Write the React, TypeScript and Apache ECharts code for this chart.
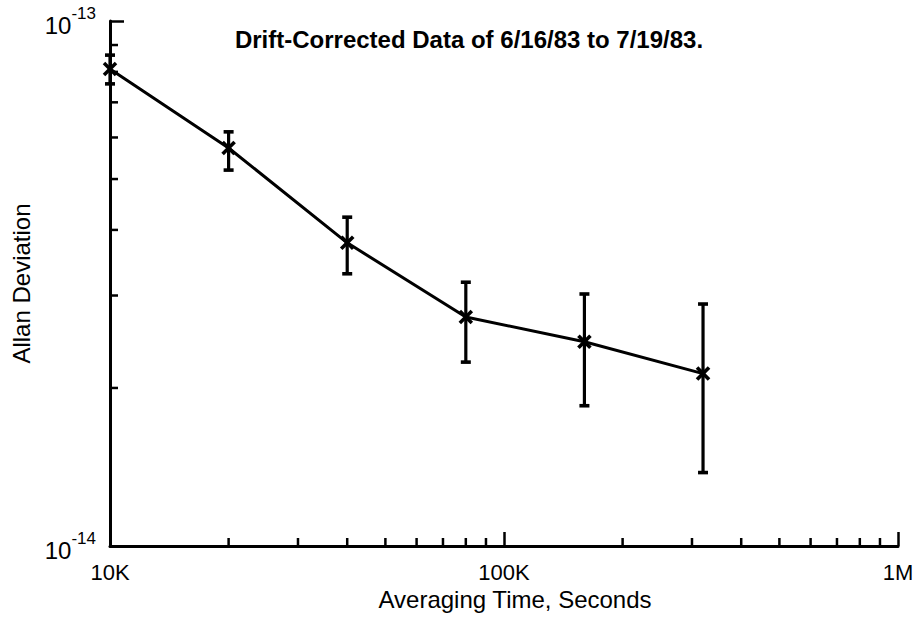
import React, { useEffect, useRef } from "react";
import * as echarts from "echarts";

// Averaging time (seconds)
const tau = [10000, 20000, 40000, 80000, 160000, 320000];
// Allan deviation
const adev = [8.1e-14, 5.73e-14, 3.78e-14, 2.73e-14, 2.45e-14, 2.13e-14];
const adevLow = [7.59e-14, 5.2e-14, 3.3e-14, 2.24e-14, 1.85e-14, 1.38e-14];
const adevHigh = [8.61e-14, 6.15e-14, 4.23e-14, 3.18e-14, 3.02e-14, 2.89e-14];

const X_MIN = 1e4;
const X_MAX = 1e6;
const Y_MIN = 1e-14;
const Y_MAX = 1e-13;

const xMinorTicks = [20000, 30000, 40000, 50000, 60000, 70000, 80000, 90000, 200000, 300000, 400000, 500000, 600000, 700000, 800000, 900000];
const yMinorTicks = [2e-14, 3e-14, 4e-14, 5e-14, 6e-14, 7e-14, 8e-14, 9e-14];
const xTickLabels: Record<string, string> = { "10000": "10K", "100000": "100K", "1000000": "1M" };

const FONT = "'Liberation Sans', Arial, Helvetica, sans-serif";

export default function App() {
  const ref = useRef<HTMLDivElement>(null);
  useEffect(() => {
    if (!ref.current) return;
    const chart = echarts.init(ref.current, null, { renderer: "svg" });
    const errData = tau.map((t, i) => [t, adev[i], adevLow[i], adevHigh[i]]);
    chart.setOption({
      animation: false,
      backgroundColor: "#fff",
      title: {
        text: "Drift-Corrected Data of 6/16/83 to 7/19/83.",
        left: 469,
        top: 27,
        padding: 0,
        textAlign: "center",
        textStyle: { fontFamily: FONT, fontWeight: "bold", fontSize: 24, color: "#000" },
      },
      grid: { left: 110, right: 22, top: 21, bottom: 82, containLabel: false },
      xAxis: {
        type: "log",
        logBase: 10,
        min: X_MIN,
        max: X_MAX,
        name: "Averaging Time, Seconds",
        nameLocation: "middle",
        nameGap: 41,
        nameTextStyle: { fontFamily: FONT, fontSize: 24, color: "#000", padding: [0, 0, 0, 22] },
        axisLine: { show: true, onZero: false, lineStyle: { color: "#000", width: 3 } },
        axisTick: { show: true, inside: true, length: 14, lineStyle: { color: "#000", width: 2.5 } },
        axisLabel: {
          color: "#000",
          fontFamily: FONT,
          fontSize: 22,
          margin: 15,
          formatter: (v: number) => xTickLabels[String(Math.round(v))] ?? "",
        },
        splitLine: { show: false },
        minorTick: { show: false },
      },
      yAxis: {
        type: "log",
        logBase: 10,
        min: Y_MIN,
        max: Y_MAX,
        name: "Allan Deviation",
        nameLocation: "middle",
        nameGap: 74,
        nameTextStyle: { fontFamily: FONT, fontSize: 24, color: "#000" },
        axisLine: { show: true, onZero: false, lineStyle: { color: "#000", width: 3 } },
        axisTick: { show: true, inside: true, length: 14, lineStyle: { color: "#000", width: 2.5 } },
        axisLabel: {
          color: "#000",
          fontFamily: FONT,
          fontSize: 24,
          margin: 14,
          formatter: (v: number) => `{b|10}{s|${Math.round(Math.log10(v))}}`,
          rich: {
            b: { fontFamily: FONT, fontSize: 24, color: "#000", lineHeight: 32, verticalAlign: "bottom" },
            s: { fontFamily: FONT, fontSize: 17, color: "#000", lineHeight: 32, verticalAlign: "top" },
          },
        },
        splitLine: { show: false },
        minorTick: { show: false },
      },
      series: [
        {
          type: "custom",
          coordinateSystem: "cartesian2d",
          silent: true,
          clip: false,
          data: xMinorTicks.map((v) => [v, Y_MIN]),
          renderItem: (_p: any, api: any) => {
            const p = api.coord([api.value(0), api.value(1)]);
            return {
              type: "line",
              shape: { x1: p[0], y1: p[1], x2: p[0], y2: p[1] - 8 },
              style: { stroke: "#000", lineWidth: 2.5 },
            };
          },
        },
        {
          type: "custom",
          coordinateSystem: "cartesian2d",
          silent: true,
          clip: false,
          data: yMinorTicks.map((v) => [X_MIN, v]),
          renderItem: (_p: any, api: any) => {
            const p = api.coord([api.value(0), api.value(1)]);
            return {
              type: "line",
              shape: { x1: p[0], y1: p[1], x2: p[0] + 8, y2: p[1] },
              style: { stroke: "#000", lineWidth: 2.5 },
            };
          },
        },
        {
          type: "line",
          data: tau.map((t, i) => [t, adev[i]]),
          showSymbol: false,
          symbol: "none",
          lineStyle: { color: "#000", width: 3 },
          silent: true,
        },
        {
          type: "custom",
          coordinateSystem: "cartesian2d",
          silent: true,
          clip: false,
          encode: { x: 0, y: [1, 2, 3] },
          data: errData,
          renderItem: (_p: any, api: any) => {
            const c = api.coord([api.value(0), api.value(1)]);
            const lo = api.coord([api.value(0), api.value(2)]);
            const hi = api.coord([api.value(0), api.value(3)]);
            const st = { stroke: "#000", lineWidth: 3.2 };
            const mk = { stroke: "#000", lineWidth: 3.6 };
            const cap = 5;
            const m = 6;
            return {
              type: "group",
              children: [
                { type: "line", shape: { x1: lo[0], y1: lo[1], x2: hi[0], y2: hi[1] }, style: st },
                { type: "line", shape: { x1: lo[0] - cap, y1: lo[1], x2: lo[0] + cap, y2: lo[1] }, style: mk },
                { type: "line", shape: { x1: hi[0] - cap, y1: hi[1], x2: hi[0] + cap, y2: hi[1] }, style: mk },
                { type: "line", shape: { x1: c[0] - m, y1: c[1] - m, x2: c[0] + m, y2: c[1] + m }, style: mk },
                { type: "line", shape: { x1: c[0] - m, y1: c[1] + m, x2: c[0] + m, y2: c[1] - m }, style: mk },
              ],
            };
          },
        },
      ],
    });
    return () => chart.dispose();
  }, []);
  return <div ref={ref} style={{ position: "fixed", left: 0, top: 0, width: 920, height: 628, background: "#fff" }} />;
}
